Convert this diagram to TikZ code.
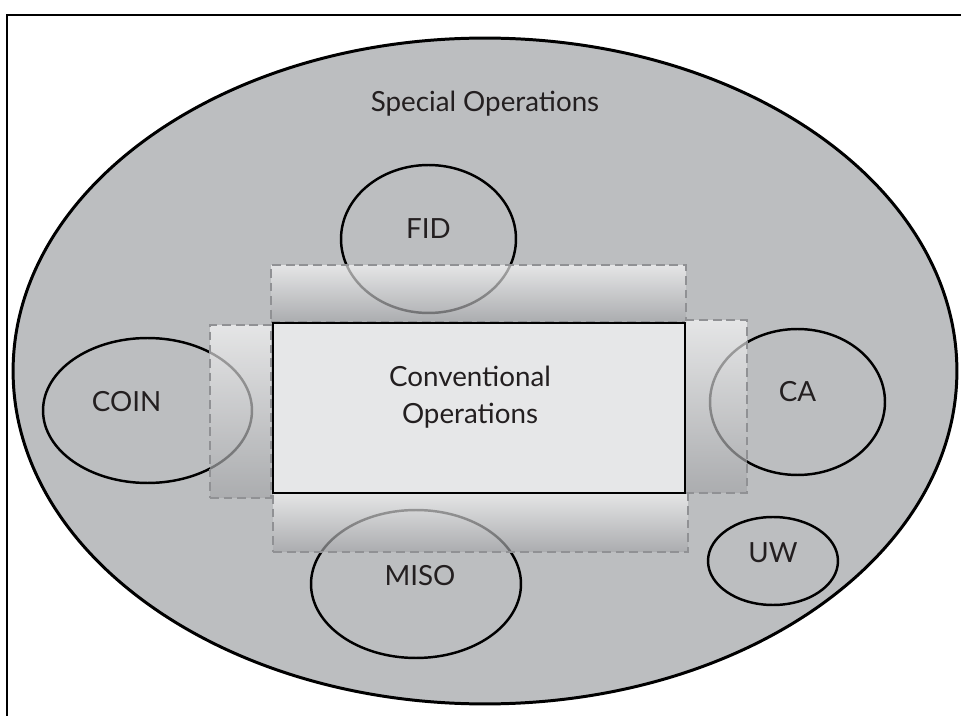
\documentclass[tikz,border=0pt]{standalone}
\usepackage{fontspec}
\setmainfont{Lato}
\usepackage{xcolor}
\usepackage{tikz}
\usetikzlibrary{shapes}

\definecolor{opsgray}{HTML}{BCBEC0}
\definecolor{convfill}{HTML}{E6E7E8}
\definecolor{inkblack}{HTML}{231F20}
\definecolor{dashgray}{HTML}{909194}
\definecolor{bandtop}{HTML}{FBFBFB}
\definecolor{bandbot}{HTML}{A3A4A7}

\begin{document}
\begin{tikzpicture}[x=0.02cm, y=-0.02cm, font=\fontsize{15.8}{21}\selectfont, text=inkblack,
    opsfield/.style={draw=black, fill=opsgray, ellipse, line width=1.7pt, inner sep=0pt},
    mission/.style={draw=black, ellipse, line width=1.4pt, inner sep=0pt},
    band/.style={draw=dashgray, dash pattern=on 5pt off 2.8pt, line width=0.8pt,
        top color=bandtop, bottom color=bandbot, fill opacity=0.65, draw opacity=1, inner sep=0pt},
    convbox/.style={draw=black, fill=convfill, line width=1.6pt, inner sep=0pt}]
    \useasboundingbox (0,0) rectangle (961,716);

    % Frame
    \draw [line width=1.2pt] (7,716) -- (7,15) -- (961,15);

    % Special operations field
    \node [opsfield, minimum width=18.88cm, minimum height=13.32cm] (special) at (485,371) {};
    \node [anchor=base] (speciallbl) at (485,112) {Special Operations};

    % Missions
    \node [mission, minimum width=3.5cm, minimum height=2.96cm,
        label={[yshift=0.2cm]center:FID}] (fid) at (428.5,239) {};
    \node [mission, minimum width=4.18cm, minimum height=2.9cm,
        label={[xshift=-0.42cm, yshift=0.18cm]center:COIN}] (coin) at (147.5,410.5) {};
    \node [mission, minimum width=3.5cm, minimum height=2.92cm,
        label={[yshift=0.21cm]center:CA}] (ca) at (797.5,402) {};
    \node [mission, minimum width=2.6cm, minimum height=1.76cm,
        label={[yshift=0.16cm]center:UW}] (uw) at (773,561) {};
    \node [mission, minimum width=4.2cm, minimum height=2.96cm,
        label={[xshift=0.08cm, yshift=0.17cm]center:MISO}] (miso) at (416,584) {};

    % Bands round the core
    \node [band, minimum width=8.3cm, minimum height=1.14cm] (bandtop) at (478.5,293.5) {};
    \node [band, minimum width=8.3cm, minimum height=1.18cm] (bandbottom) at (480.5,522.5) {};
    \node [band, minimum width=1.22cm, minimum height=3.46cm] (bandleft) at (240.5,411.5) {};
    \node [band, minimum width=1.24cm, minimum height=3.46cm] (bandright) at (716,406.5) {};

    % Conventional operations
    \node [convbox, minimum width=8.24cm, minimum height=3.4cm,
        label={[xshift=-0.18cm, yshift=0.22cm, align=center]center:Conventional\\Operations}] (conv) at (479,408) {};

\end{tikzpicture}
\end{document}
